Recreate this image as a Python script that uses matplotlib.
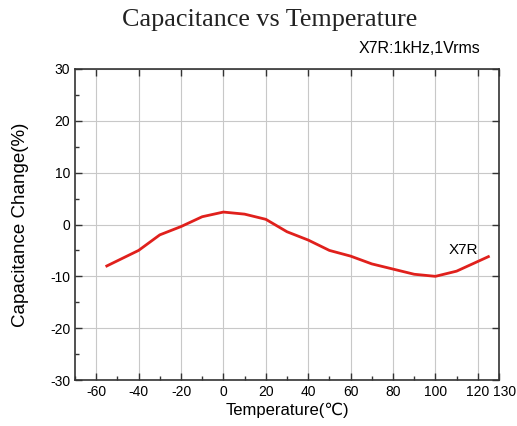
import matplotlib
matplotlib.use("Agg")
import matplotlib.pyplot as plt
from matplotlib.ticker import MultipleLocator
from matplotlib.transforms import ScaledTranslation

temps = [-55, -40, -30, -20, -10, 0, 10, 20, 30, 40, 50, 60, 70, 80, 90, 100, 110, 125]
cap_change = [-8.0, -5.0, -2.0, -0.4, 1.5, 2.4, 2.0, 1.0, -1.4, -3.0, -5.0, -6.1, -7.6, -8.6, -9.6, -10.0, -9.0, -6.2]
xticks = [-60, -40, -20, 0, 20, 40, 60, 80, 100, 120, 130]
yticks = [-30, -20, -10, 0, 10, 20, 30]

sans = ['Liberation Sans', 'DejaVu Sans']
plt.rcParams['font.family'] = sans
plt.rcParams['axes.unicode_minus'] = False

fig = plt.figure(figsize=(5.17, 4.26), dpi=100)
ax = fig.add_axes([75/517, 46/426, 424/517, 311/426])

ax.plot(temps, cap_change, color='#e0201c', lw=2.0, zorder=3)
ax.set_xlim(-70, 130)
ax.set_ylim(-30, 30)
ax.set_xticks(xticks)
ax.set_yticks(yticks)
ax.xaxis.set_minor_locator(MultipleLocator(10))
ax.yaxis.set_minor_locator(MultipleLocator(5))
ax.grid(True, which='major', color='#c8c8c8', lw=0.8)
ax.tick_params(which='major', direction='in', length=5, width=1, labelsize=10, colors='#333333', labelcolor='black')
ax.tick_params(which='minor', direction='in', length=3, width=1, colors='#333333')
ax.tick_params(axis='x', which='major', top=True)
ax.tick_params(axis='y', which='major', right=True)
for s in ax.spines.values():
    s.set_color('#333333')
    s.set_linewidth(1.2)

fig.canvas.draw()
labels = ax.get_xticklabels()
labels[-1].set_transform(labels[-1].get_transform() + ScaledTranslation(6/100, 0, fig.dpi_scale_trans))

ax.set_xlabel('Temperature(℃)', fontsize=12, labelpad=3)
ax.set_ylabel('Capacitance Change(%)', fontsize=13.5, labelpad=15)
ax.text(113, -4.9, 'X7R', fontsize=11, ha='center', va='center')

fig.text(0.522, 0.953, 'Capacitance vs Temperature', family='Liberation Serif', fontsize=18.8, ha='center', va='center', color='#222222')
fig.text(0.93, 0.885, 'X7R:1kHz,1Vrms', fontsize=11.5, ha='right', va='center')

fig.savefig('out.png', dpi=100)
